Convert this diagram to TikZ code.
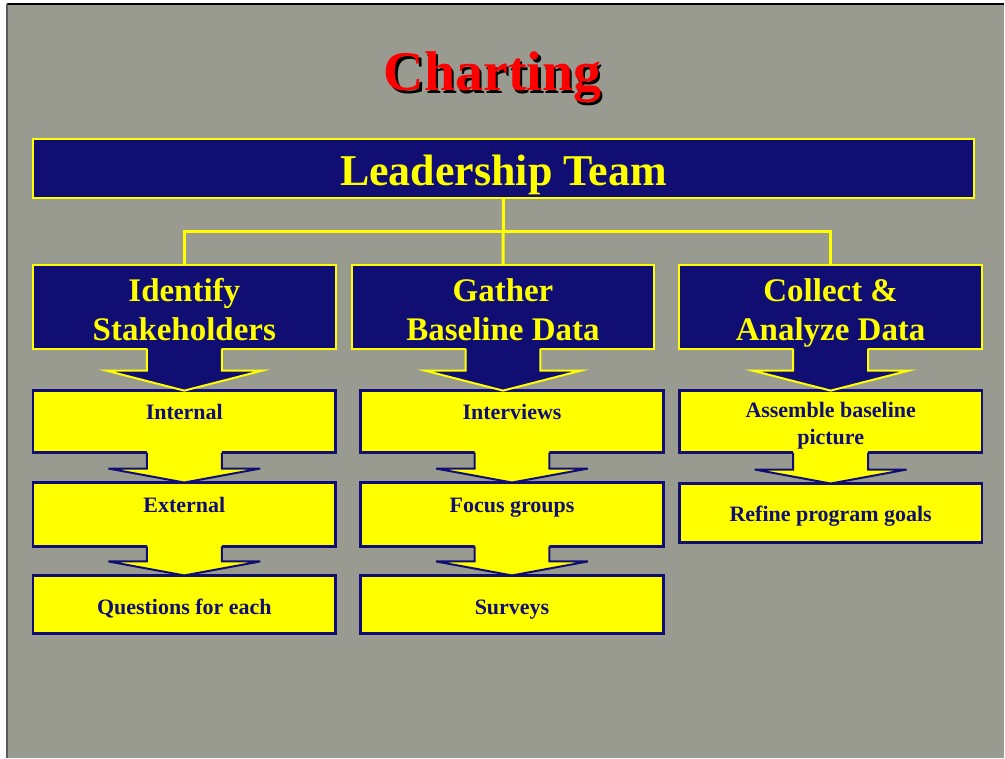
\documentclass[tikz,border=0pt]{standalone}
\usepackage{fontspec}
\setmainfont{Liberation Serif}
\usetikzlibrary{calc}
\definecolor{bg}{RGB}{153,155,145}
\definecolor{navy}{RGB}{16,14,114}
\definecolor{ylw}{RGB}{255,255,0}
\newcommand\flowarrow[6]{%
  \path let \p1=(#1.south), \p2=(#2.north) in
    [fill=#3] (\x1-37.5pt,\y1+2pt) -- (\x1+37.5pt,\y1+2pt) -- (\x1+37.5pt,\y2+#5) -- (\x1+#6,\y2+#5)
      -- (\x1,\y2) -- (\x1-#6,\y2+#5) -- (\x1-37.5pt,\y2+#5) -- cycle;
  \draw[draw=#4, line width=2pt, line join=miter] let \p1=(#1.south), \p2=(#2.north) in
    (\x1-37.5pt,\y1) -- (\x1-37.5pt,\y2+#5) -- (\x1-#6,\y2+#5) -- (\x1,\y2)
      -- (\x1+#6,\y2+#5) -- (\x1+37.5pt,\y2+#5) -- (\x1+37.5pt,\y1);
}
\begin{document}
\begin{tikzpicture}[x=1pt,y=-1pt,
  bluebox/.style={draw=ylw, fill=navy, line width=2pt, text=ylw,
    font=\bfseries\fontsize{33}{39}\selectfont, align=center,
    inner sep=0pt, outer sep=0pt, minimum width=303pt, minimum height=84pt,
    text height=76pt, text depth=8pt},
  ybox/.style={draw=navy, fill=ylw, line width=2.5pt, text=navy,
    font=\bfseries\fontsize{22}{27}\selectfont, align=center,
    inner sep=0pt, outer sep=0pt, minimum width=303pt},
  conn/.style={draw=ylw, line width=3pt}]
% background
\fill[white] (0,0) rectangle (1005,759);
\fill[bg] (7,4) rectangle (1005,759);
\draw[black, line width=2pt] (7,4) -- (1005,4);
\draw[black!65, line width=1.5pt] (7,4) -- (7,759);
% title
\node[anchor=base, text=black, font=\bfseries\fontsize{56}{60}\selectfont] (titleshadow) at (495.5,93.5) {Charting};
\node[anchor=base, text=red, font=\bfseries\fontsize{56}{60}\selectfont] (title) at (493,91) {Charting};
% leadership
\node[bluebox, minimum width=942pt, minimum height=59pt, font=\bfseries\fontsize{44}{48}\selectfont,
  text height=47pt, text depth=12pt] (lead) at (504,168.5) {Leadership Team};
% level 2
\node[bluebox] (b1) at (184.5,307) {Identify\\Stakeholders};
\node[bluebox] (b2) at (503.5,307) {Gather\\Baseline Data};
\node[bluebox] (b3) at (831.5,307) {Collect \&\\Analyze Data};
% connectors
\draw[conn] (lead.south) -- (b2.north);
\draw[conn] (b1.north) -- ++(0,-33) -| (b3.north);
% column 1
\node[ybox, minimum height=62pt, text height=29pt, text depth=33pt] (c1a) at (184.5,422) {Internal};
\node[ybox, minimum height=64pt, text height=30pt, text depth=34pt] (c1b) at (184.5,515) {External};
\node[ybox, minimum height=58pt, text height=39pt, text depth=19pt] (c1c) at (184.5,605) {Questions for each};
% column 2
\node[ybox, minimum height=62pt, text height=29pt, text depth=33pt] (c2a) at (512.5,422) {Interviews};
\node[ybox, minimum height=64pt, text height=30pt, text depth=34pt] (c2b) at (512.5,515) {Focus groups};
\node[ybox, minimum height=58pt, text height=39pt, text depth=19pt] (c2c) at (512.5,605) {Surveys};
% column 3
\node[ybox, minimum height=62pt, text height=54pt, text depth=8pt] (c3a) at (831.5,422) {Assemble baseline\\picture};
\node[ybox, minimum height=59pt, text height=38pt, text depth=21pt] (c3b) at (831.5,513.5) {Refine program goals};
% arrows
\flowarrow{b1}{c1a}{navy}{ylw}{20pt}{78pt}
\flowarrow{b2}{c2a}{navy}{ylw}{20pt}{78pt}
\flowarrow{b3}{c3a}{navy}{ylw}{20pt}{78pt}
\flowarrow{c1a}{c1b}{ylw}{navy}{14pt}{76pt}
\flowarrow{c1b}{c1c}{ylw}{navy}{14pt}{76pt}
\flowarrow{c2a}{c2b}{ylw}{navy}{14pt}{76pt}
\flowarrow{c2b}{c2c}{ylw}{navy}{14pt}{76pt}
\flowarrow{c3a}{c3b}{ylw}{navy}{14pt}{76pt}
\end{tikzpicture}
\end{document}
